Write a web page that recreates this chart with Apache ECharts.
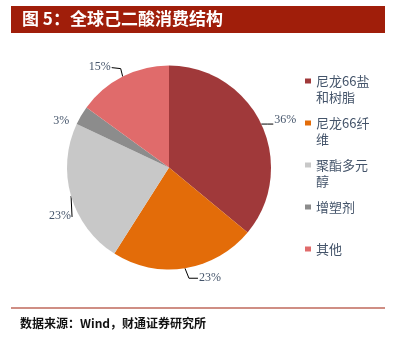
<!DOCTYPE html>
<html>
<head>
<meta charset="utf-8">
<script src="https://cdn.jsdelivr.net/npm/echarts@6/dist/echarts.min.js"></script>
<style>
  html, body { margin: 0; padding: 0; background: #fff; }
  #chart { width: 393px; height: 342px; }
</style>
</head>
<body>
<div id="chart"></div>
<script>
// Global adipic acid consumption structure (share, %)
const categories = ['尼龙66盐\n和树脂', '尼龙66纤\n维', '聚酯多元\n醇', '增塑剂', '其他'];
const shares = [36, 23, 23, 3, 15];
const sliceColors = ['#A0393A', '#E36C09', '#C8C8C8', '#8C8C8C', '#E06B6B'];

const titleText = '图 5：全球己二酸消费结构';
const sourceText = '数据来源：Wind，财通证券研究所';

// leader-line shape per slice, as offsets from the slice's outer edge point:
// [bend dx, bend dy, end dx, end dy, label side, label dy, show line]
const leaderShapes = [
  [6, 0, 12, 0, 'left', -4, true],
  [4, 10, 13, 10, 'left', 0, true],
  [1, 21, 1, 21, 'right', -1, true],
  [-11, 5, -11, 5, 'right', 0, false],
  [-2, -8, -11, -9, 'right', -1, true]
];

const chart = echarts.init(document.getElementById('chart'));

// legend entries: a blank first line keeps the swatch beside the first text line
function legendLabel(name) {
  const lines = name.split('\n');
  if (lines.length === 1) lines.push(' ');
  return ' \n' + lines.join('\n');
}

chart.setOption({
  animation: false,
  backgroundColor: '#ffffff',
  graphic: [
    {
      type: 'rect',
      left: 11, top: 6,
      shape: { width: 374, height: 27 },
      style: { fill: '#A01E0A' }
    },
    {
      type: 'text',
      left: 22, top: 10,
      style: {
        text: titleText,
        fill: '#ffffff',
        font: 'bold 17px "Noto Sans CJK SC", sans-serif'
      }
    },
    {
      type: 'rect',
      left: 11, top: 307.5,
      shape: { width: 374, height: 1 },
      style: { fill: '#A01E0A' }
    },
    {
      type: 'text',
      left: 20, top: 317,
      style: {
        text: sourceText,
        fill: '#111111',
        font: 'bold 12px "Noto Sans CJK SC", sans-serif'
      }
    }
  ],
  legend: {
    orient: 'vertical',
    left: 300,
    top: 52,
    itemWidth: 6,
    itemHeight: 5,
    itemGap: -6,
    icon: 'rect',
    formatter: legendLabel,
    textStyle: {
      color: '#44546A',
      fontSize: 13,
      lineHeight: 16,
      fontFamily: '"Noto Sans CJK SC", sans-serif'
    },
    data: categories
  },
  series: [{
    type: 'pie',
    center: [169, 167.5],
    radius: [0, 102],
    startAngle: 90,
    clockwise: true,
    avoidLabelOverlap: false,
    data: categories.map((c, i) => ({
      name: c,
      value: shares[i],
      itemStyle: { color: sliceColors[i] },
      labelLine: { lineStyle: { opacity: leaderShapes[i][6] ? 1 : 0 } }
    })),
    label: {
      show: true,
      position: 'outside',
      formatter: p => p.value + '%',
      color: '#44546A',
      fontSize: 12,
      fontFamily: '"Liberation Serif", serif',
      padding: 0
    },
    labelLine: {
      show: true,
      length: 5,
      length2: 8,
      lineStyle: { color: '#000000', width: 1 }
    },
    labelLayout: function (params) {
      const s = leaderShapes[params.dataIndex];
      const p0 = params.labelLinePoints[0];
      const p1 = [p0[0] + s[0], p0[1] + s[1]];
      const p2 = [p0[0] + s[2], p0[1] + s[3]];
      const gap = s[4] === 'left' ? 1 : -1;
      return {
        x: p2[0] + gap,
        y: p2[1] + s[5],
        align: s[4],
        verticalAlign: 'middle',
        labelLinePoints: [p0, p1, p2]
      };
    },
    emphasis: { disabled: true }
  }]
});
</script>
</body>
</html>
